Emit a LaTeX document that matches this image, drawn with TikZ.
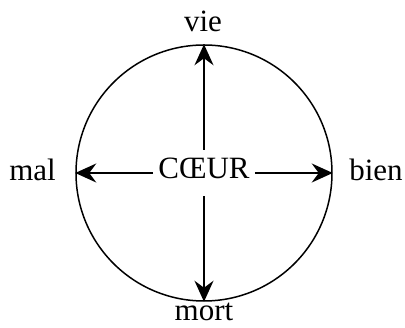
\documentclass[tikz,border=0pt]{standalone}
\usepackage{fontspec}
\setmainfont{Liberation Serif}
\usetikzlibrary{arrows.meta}
\begin{document}
\begin{tikzpicture}[
    x=1pt, y=1pt,
    lbl/.style={font=\fontsize{31}{37}\selectfont, inner sep=0pt, anchor=base},
    ring/.style={draw, circle, line width=1.5pt, minimum size=256pt, inner sep=0pt},
    arr/.style={-{Stealth[length=21pt, width=19pt, inset=7pt]}, line width=1.7pt},
  ]
    \useasboundingbox (-204,-155) rectangle (201,173);

    % circle round the centre
    \node[ring] (ring) at (0,0) {};

    % centre word
    \node[lbl, inner sep=5pt, text height=24pt, text depth=12pt, anchor=center] (heart) at (0,0) {CŒUR};

    % the four poles
    \node[lbl] (vie)  at (-1,141)    {vie};
    \node[lbl] (mort) at (0,-148)    {mort};
    \node[lbl] (mal)  at (-171.5,-8) {mal};
    \node[lbl] (bien) at (172,-8)    {bien};

    % arrows out to the circle
    \draw[arr] (heart.north) -- (ring.north);
    \draw[arr] (heart.south) -- (ring.south);
    \draw[arr] (heart.west)  -- (ring.west);
    \draw[arr] (heart.east)  -- (ring.east);
\end{tikzpicture}
\end{document}
